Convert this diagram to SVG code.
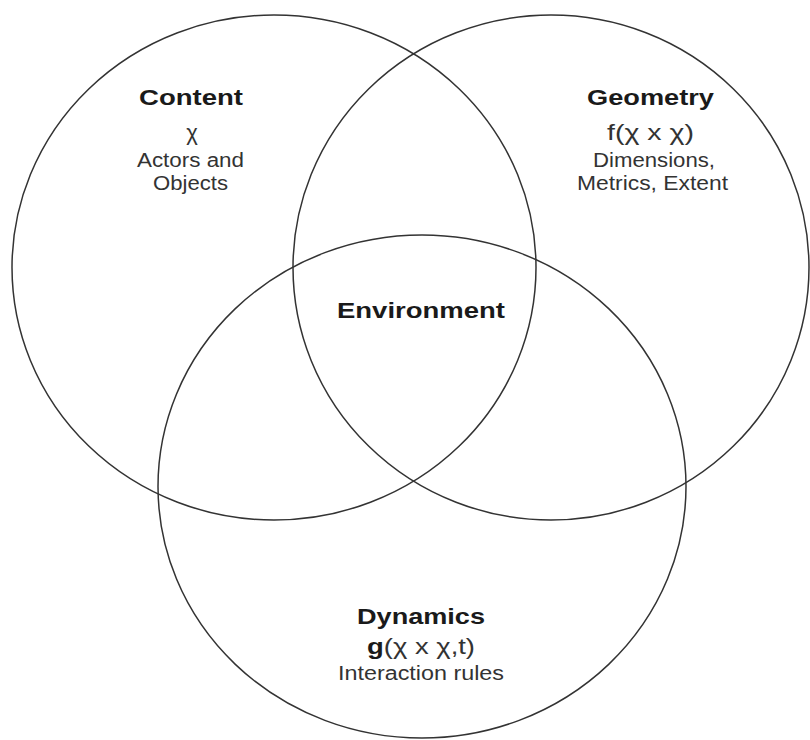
<svg xmlns="http://www.w3.org/2000/svg" width="810" height="740" viewBox="0 0 810 740">
<style>
.c{fill:none;stroke:#333;stroke-width:1.5}
.t{font-family:"Liberation Sans",Arial,sans-serif;text-anchor:middle}
.b{font-weight:bold;font-size:22px;fill:#1a1a1a}
.r{font-size:20px;fill:#333}
.m{font-size:22px;fill:#333}
</style>
<rect width="810" height="740" fill="#fff"/>
<g id="content">
<ellipse class="c" cx="274" cy="267.5" rx="262" ry="252.5"/>
<text class="t b" x="191" y="105" textLength="104" lengthAdjust="spacingAndGlyphs">Content</text>
<text class="t m" x="192" y="140" font-size="24">χ</text>
<text class="t r" x="190.5" y="167" textLength="107" lengthAdjust="spacingAndGlyphs">Actors and</text>
<text class="t r" x="190.5" y="190" textLength="75" lengthAdjust="spacingAndGlyphs">Objects</text>
</g>
<g id="geometry">
<ellipse class="c" cx="551" cy="267.5" rx="258" ry="252.5"/>
<text class="t b" x="650.5" y="105" textLength="127" lengthAdjust="spacingAndGlyphs">Geometry</text>
<text class="t m" x="650.5" y="140" textLength="87" lengthAdjust="spacingAndGlyphs">f(χ x χ)</text>
<text class="t r" x="654" y="167" textLength="122" lengthAdjust="spacingAndGlyphs">Dimensions,</text>
<text class="t r" x="652.5" y="190" textLength="151" lengthAdjust="spacingAndGlyphs">Metrics, Extent</text>
</g>
<g id="dynamics">
<ellipse class="c" cx="422" cy="486.5" rx="264" ry="251.5"/>
<text class="t b" x="421" y="624" textLength="128" lengthAdjust="spacingAndGlyphs">Dynamics</text>
<text class="t m" x="421" y="654" textLength="108" lengthAdjust="spacingAndGlyphs"><tspan font-weight="bold" fill="#1a1a1a">g</tspan>(χ x χ,t)</text>
<text class="t r" x="421" y="680" textLength="166" lengthAdjust="spacingAndGlyphs">Interaction rules</text>
</g>
<g id="environment">
<text class="t b" x="421" y="318" textLength="168" lengthAdjust="spacingAndGlyphs">Environment</text>
</g>
</svg>
